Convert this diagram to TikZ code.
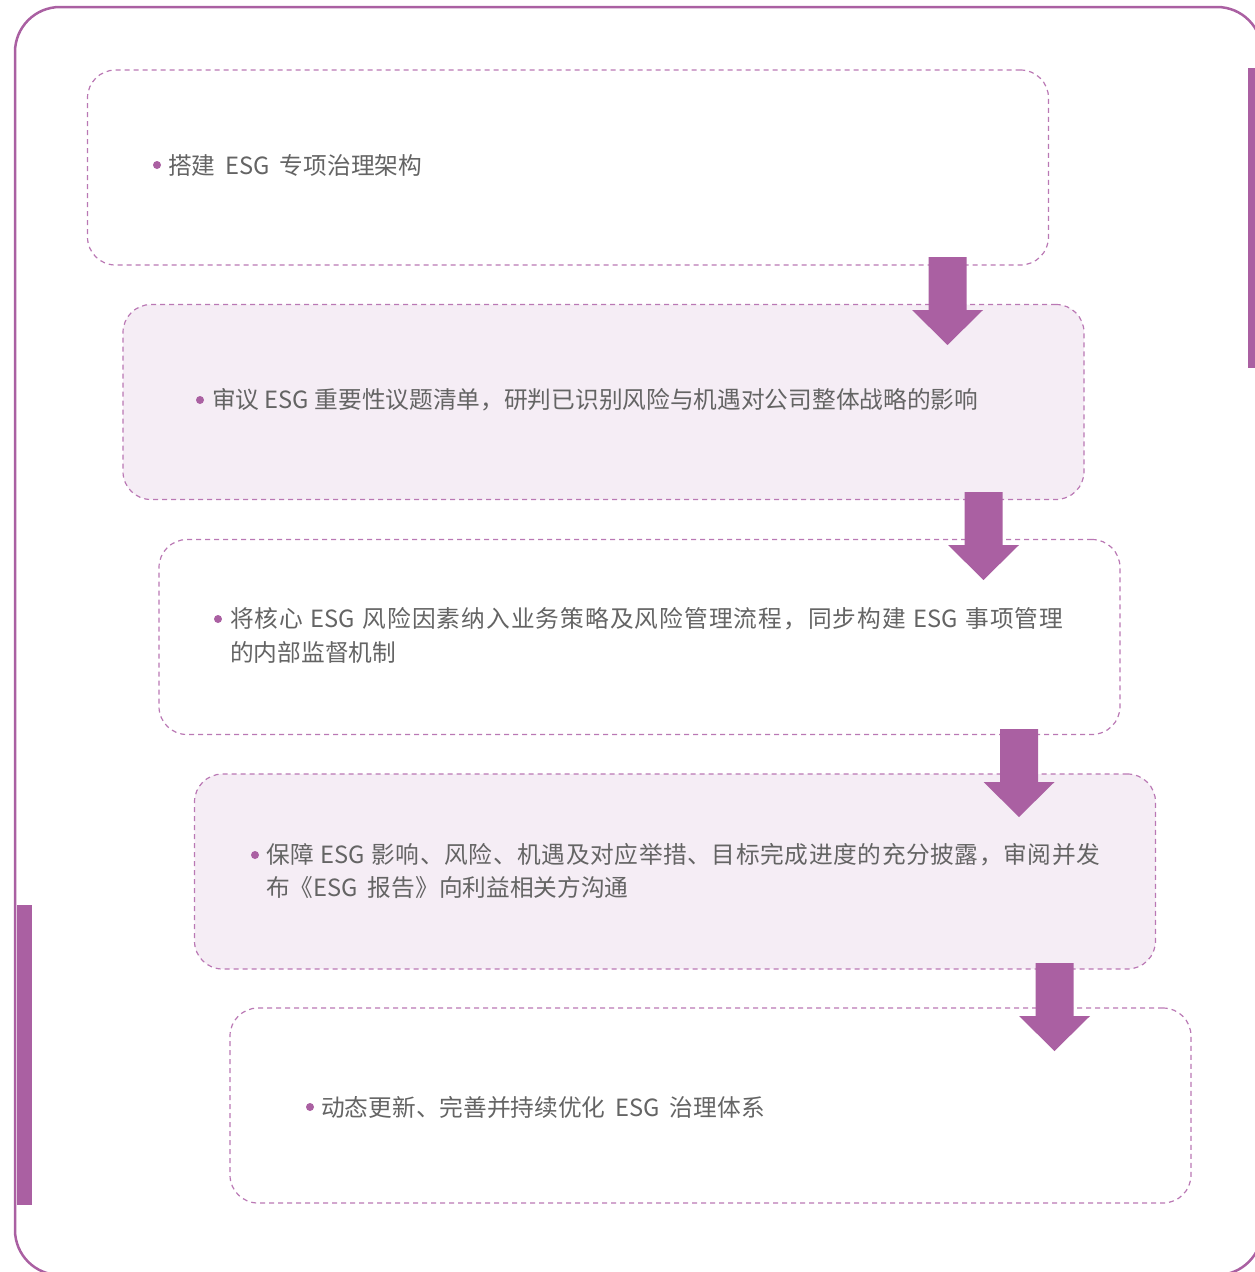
\documentclass[tikz,border=0pt]{standalone}
\usepackage{fontspec}
\setmainfont{Noto Sans CJK SC}
\definecolor{purp}{RGB}{170,96,162}
\definecolor{dashc}{RGB}{186,120,180}
\definecolor{lav}{RGB}{245,237,245}
\definecolor{txt}{RGB}{100,100,100}
\def\esg{ESG}
\def\endspr{ENDSPRMARK}
\def\spr#1{#1\sprnext}
\def\sprnext#1{\ifx#1\endspr\else\hfil#1\expandafter\sprnext\fi}
\newcommand\wsp{\hspace{0.42em}}
\tikzset{
  box/.style={draw=dashc, dash pattern=on 5pt off 4pt, line width=1.2pt,
    rounded corners=28pt, minimum width=961pt, minimum height=195pt,
    inner sep=0pt, outer sep=0pt},
  lavbox/.style={box, fill=lav},
  whitebox/.style={box, fill=white},
  bullet/.style={circle, fill=purp, minimum size=8pt, inner sep=0pt},
  label/.style={anchor=west, inner sep=0pt, text=txt,
    font=\fontsize{23.7pt}{33pt}\selectfont},
  blockarrow/.style={fill=purp}
}
\begin{document}
\begin{tikzpicture}[x=1pt,y=-1pt]
\useasboundingbox (0,0) rectangle (1255,1272);
% outer frame and side bars
\draw[purp, line width=2.5pt, rounded corners=45pt] (15,7) rectangle (1262,1275);
\fill[purp] (17,905) rectangle (32,1205);
\fill[purp] (1248,68) rectangle (1255,368);
% boxes
\node[whitebox] (b1) at (568,167.5) {};
\node[lavbox]   (b2) at (603.5,402) {};
\node[whitebox] (b3) at (639.5,637) {};
\node[lavbox]   (b4) at (675,871.5) {};
\node[whitebox] (b5) at (710.5,1105.5) {};
% arrows
\coordinate (a1) at (947.5,257);
\coordinate (a2) at (983.5,492);
\coordinate (a3) at (1019,729);
\coordinate (a4) at (1054.5,963);
\foreach \a in {a1,a2,a3,a4}{
  \fill[blockarrow] (\a) ++(-19,0) -- ++(38,0) -- ++(0,53) -- ++(16.5,0)
    -- ++(-35.5,35) -- ++(-35.5,-35) -- ++(16.5,0) -- cycle;
}
% texts
\node[bullet] (d1) at (157,165) {};
\node[label] (t1) at (168,165) {搭建\wsp ESG\wsp 专项治理架构};
\node[bullet] (d2) at (200,400) {};
\node[label] (t2) at (212,400) {审议 ESG 重要性议题清单，研判已识别风险与机遇对公司整体战略的影响};
\node[bullet] (d3) at (218,619) {};
\node[label] (t3a) at (230,619) {\makebox[833pt][s]{\spr 将核心~\esg~风险因素纳入业务策略及风险管理流程，同步构建~\esg~事项管理\endspr}};
\node[label] (t3b) at (230,652) {的内部监督机制};
\node[bullet] (d4) at (255,855) {};
\node[label] (t4a) at (266,855) {\makebox[834pt][s]{\spr 保障~\esg~影响、风险、机遇及对应举措、目标完成进度的充分披露，审阅并发\endspr}};
\node[label] (t4b) at (266,888) {布《ESG\wsp 报告》向利益相关方沟通};
\node[bullet] (d5) at (310,1107) {};
\node[label] (t5) at (321,1107) {动态更新、完善并持续优化\wsp ESG\wsp 治理体系};
\end{tikzpicture}
\end{document}
